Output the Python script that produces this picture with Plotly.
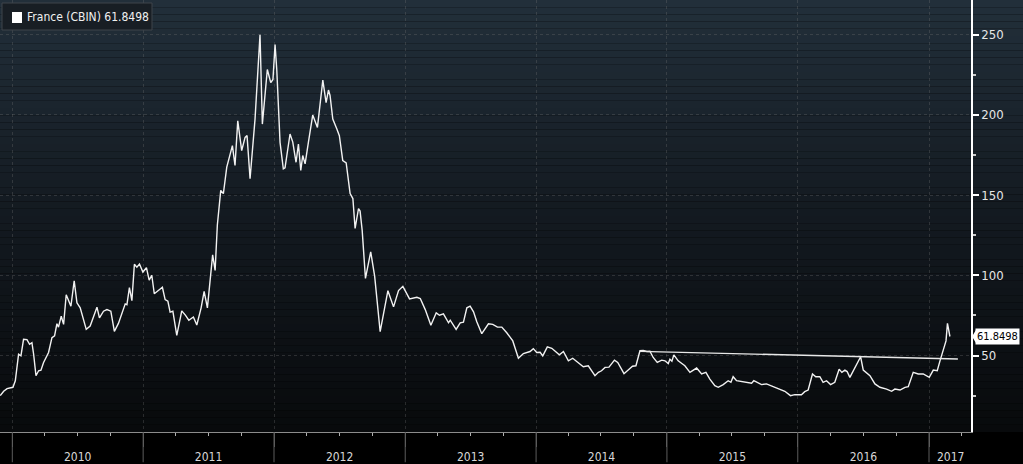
import plotly.graph_objects as go
from datetime import datetime, timedelta

# ---------------- data ----------------
series_name = "France (CBIN)"
last_value = 61.8498

# time as fractional year
t_years = [
    2009.908, 2009.934, 2009.960, 2010.005, 2010.023, 2010.048, 2010.066, 2010.086, 2010.112, 2010.132,
    2010.150, 2010.163, 2010.181, 2010.201, 2010.219, 2010.239, 2010.277, 2010.303, 2010.323, 2010.341,
    2010.353, 2010.374, 2010.392, 2010.412, 2010.448, 2010.473, 2010.494, 2010.519, 2010.565, 2010.595,
    2010.647, 2010.666, 2010.697, 2010.723, 2010.753, 2010.780, 2010.811, 2010.837, 2010.863, 2010.876,
    2010.895, 2010.914, 2010.933, 2010.952, 2010.972, 2010.998, 2011.025, 2011.046, 2011.066, 2011.085,
    2011.121, 2011.147, 2011.168, 2011.189, 2011.206, 2011.227, 2011.257, 2011.295, 2011.324, 2011.349,
    2011.384, 2011.410, 2011.443, 2011.466, 2011.491, 2011.531, 2011.550, 2011.567, 2011.593, 2011.613,
    2011.639, 2011.664, 2011.682, 2011.702, 2011.723, 2011.753, 2011.779, 2011.794, 2011.817, 2011.855,
    2011.893, 2011.911, 2011.949, 2011.975, 2011.992, 2012.008, 2012.021, 2012.046, 2012.071, 2012.084,
    2012.122, 2012.143, 2012.168, 2012.186, 2012.204, 2012.219, 2012.237, 2012.262, 2012.295, 2012.331,
    2012.372, 2012.397, 2012.415, 2012.427, 2012.448, 2012.479, 2012.498, 2012.524, 2012.550, 2012.580,
    2012.601, 2012.618, 2012.644, 2012.656, 2012.672, 2012.697, 2012.737, 2012.767, 2012.798, 2012.809,
    2012.868, 2012.911, 2012.949, 2012.982, 2013.033, 2013.089, 2013.115, 2013.153, 2013.196, 2013.237,
    2013.262, 2013.292, 2013.331, 2013.344, 2013.389, 2013.420, 2013.445, 2013.471, 2013.496, 2013.522,
    2013.547, 2013.585, 2013.636, 2013.669, 2013.705, 2013.738, 2013.776, 2013.822, 2013.865, 2013.903,
    2013.954, 2013.979, 2014.005, 2014.031, 2014.051, 2014.086, 2014.120, 2014.158, 2014.178, 2014.209,
    2014.247, 2014.280, 2014.336, 2014.361, 2014.399, 2014.450, 2014.476, 2014.500, 2014.527, 2014.557,
    2014.599, 2014.624, 2014.672, 2014.705, 2014.737, 2014.763, 2014.794, 2014.819, 2014.847, 2014.870,
    2014.895, 2014.926, 2014.960, 2014.985, 2015.010, 2015.023, 2015.038, 2015.053, 2015.086, 2015.137,
    2015.176, 2015.227, 2015.265, 2015.298, 2015.328, 2015.366, 2015.392, 2015.430, 2015.468, 2015.489,
    2015.506, 2015.532, 2015.570, 2015.608, 2015.647, 2015.664, 2015.687, 2015.723, 2015.761, 2015.811,
    2015.863, 2015.901, 2015.944, 2015.977, 2016.028, 2016.053, 2016.079, 2016.112, 2016.137, 2016.168,
    2016.193, 2016.219, 2016.250, 2016.282, 2016.315, 2016.336, 2016.359, 2016.376, 2016.397, 2016.435,
    2016.479, 2016.499, 2016.550, 2016.588, 2016.626, 2016.677, 2016.715, 2016.740, 2016.779, 2016.817,
    2016.842, 2016.880, 2016.918, 2016.956, 2017.002, 2017.033, 2017.063, 2017.084, 2017.109, 2017.130,
    2017.141, 2017.160,
]

cds = [
    25.0, 27.7, 29.4, 30.2, 34.3, 50.8, 49.8, 60.1, 59.9, 57.0,
    58.0, 50.8, 37.4, 40.5, 40.9, 45.7, 51.9, 61.1, 62.2, 69.8,
    67.7, 74.5, 69.4, 87.9, 80.7, 96.6, 82.8, 79.7, 66.3, 68.4,
    80.1, 73.5, 77.6, 78.6, 77.6, 65.0, 70.0, 75.6, 82.2, 81.7,
    92.3, 84.2, 106.9, 105.0, 107.0, 102.0, 104.7, 97.0, 100.0, 88.5,
    91.0, 92.5, 84.8, 83.8, 77.0, 77.6, 62.5, 77.8, 75.0, 72.0,
    74.0, 69.0, 79.7, 90.0, 79.7, 112.7, 103.0, 131.3, 152.9, 150.9,
    167.4, 174.6, 180.8, 168.4, 196.2, 177.7, 185.9, 187.0, 160.1, 197.3,
    249.9, 194.2, 228.2, 220.0, 222.0, 243.7, 228.2, 182.8, 166.3, 167.0,
    188.0, 183.0, 170.4, 181.8, 165.3, 174.6, 169.4, 182.8, 199.8, 192.1,
    221.6, 207.6, 215.4, 212.0, 197.3, 191.1, 187.0, 171.5, 170.0, 150.9,
    147.8, 129.2, 141.6, 140.0, 128.0, 98.0, 114.6, 99.5, 70.0, 64.9,
    90.4, 80.3, 90.5, 93.1, 85.3, 86.3, 85.5, 78.6, 68.8, 76.6,
    75.1, 75.9, 70.4, 72.0, 66.3, 70.4, 70.8, 79.7, 80.7, 77.2,
    71.0, 63.6, 69.8, 69.4, 67.7, 67.7, 64.2, 59.1, 48.3, 51.2,
    52.5, 54.3, 51.9, 52.0, 49.8, 55.4, 54.5, 51.9, 50.4, 52.5,
    46.7, 48.3, 44.6, 43.0, 43.6, 37.4, 39.5, 40.5, 42.6, 42.8,
    47.1, 45.7, 38.7, 41.0, 43.3, 43.6, 53.0, 53.1, 52.5, 52.7,
    48.8, 45.7, 47.1, 46.7, 45.0, 47.7, 46.5, 50.4, 46.7, 43.6,
    39.5, 42.2, 38.5, 39.5, 35.3, 31.2, 30.2, 31.9, 34.3, 33.3,
    36.8, 34.3, 33.7, 33.3, 32.7, 34.3, 33.3, 31.9, 32.3, 30.6,
    29.1, 27.7, 25.0, 25.6, 25.6, 27.5, 28.5, 38.5, 36.8, 36.8,
    33.3, 34.3, 31.9, 33.3, 41.5, 39.5, 40.9, 40.0, 36.4, 42.6,
    49.2, 40.9, 37.4, 32.3, 30.2, 29.1, 27.7, 29.1, 28.5, 30.2,
    30.6, 39.5, 38.5, 38.5, 36.4, 40.9, 40.5, 46.7, 52.9, 59.1,
    70.0, 61.8498,
]

# trend line drawn on the chart
trend_t = [2014.794, 2017.221]
trend_v = [52.6, 47.8]

y_tick_vals = [50, 100, 150, 200, 250]
year_labels = [2010, 2011, 2012, 2013, 2014, 2015, 2016, 2017]
x_range_years = [2009.906, 2017.321]
y_range = [2.35, 271.5]


def frac_to_date(t):
    year = int(t)
    start = datetime(year, 1, 1)
    days = (datetime(year + 1, 1, 1) - start).days
    return start + timedelta(days=(t - year) * days)


dates = [frac_to_date(t) for t in t_years]
trend_dates = [frac_to_date(t) for t in trend_t]
x_start = frac_to_date(x_range_years[0])
x_end = frac_to_date(x_range_years[1])

FONT = "Liberation Sans Narrow, DejaVu Sans Condensed, Liberation Sans, Arial, sans-serif"
LABEL_COLOR = "#d8d8d8"

fig = go.Figure()

fig.add_trace(go.Scatter(
    x=dates, y=cds, mode="lines", name=series_name,
    line=dict(color="#f2f2f2", width=1.4), showlegend=False,
    hoverinfo="x+y",
))
fig.add_trace(go.Scatter(
    x=trend_dates, y=trend_v, mode="lines",
    line=dict(color="#e8e8e8", width=1.4), showlegend=False, hoverinfo="skip",
))

shapes = []
# vertical gradient background (plot area + right margin)
n_bands = 60
top = (34, 47, 58)
mid = (20, 27, 34)
bot = (8, 10, 12)
for i in range(n_bands):
    f = i / (n_bands - 1)  # 0 at top, 1 at bottom
    if f < 0.46:
        g = f / 0.46
        c = [round(top[k] + (mid[k] - top[k]) * g) for k in range(3)]
    else:
        g = (f - 0.46) / 0.54
        c = [round(mid[k] + (bot[k] - mid[k]) * g) for k in range(3)]
    y1 = 1 - i / n_bands
    y0 = 1 - (i + 1) / n_bands
    shapes.append(dict(type="rect", xref="paper", yref="paper",
                       x0=-0.01, x1=1.1, y0=y0, y1=y1,
                       fillcolor="rgb(%d,%d,%d)" % tuple(c),
                       line=dict(width=0), layer="below"))

# year separators in the bottom band
for yr in year_labels:
    shapes.append(dict(type="line", xref="x", yref="paper",
                       x0=datetime(yr, 1, 1), x1=datetime(yr, 1, 1),
                       y0=-0.07, y1=0, line=dict(color="#5c5c5c", width=1)))

# legend box (pixel sized, anchored at top-left of plot)
shapes.append(dict(type="rect", xref="paper", yref="paper",
                   xsizemode="pixel", ysizemode="pixel", xanchor=0, yanchor=1,
                   x0=2, x1=152, y0=-3, y1=-30,
                   fillcolor="rgb(24,30,36)", line=dict(color="rgb(62,68,74)", width=1)))
shapes.append(dict(type="rect", xref="paper", yref="paper",
                   xsizemode="pixel", ysizemode="pixel", xanchor=0, yanchor=1,
                   x0=12, x1=22, y0=-12, y1=-23,
                   fillcolor="#ffffff", line=dict(width=0)))

# pointer of the last-value tag
shapes.append(dict(type="path", xref="paper", yref="y",
                   xsizemode="pixel", ysizemode="pixel", xanchor=1, yanchor=last_value,
                   path="M 1,0 L 5,6.5 L 5,-6.5 Z",
                   fillcolor="#ffffff", line=dict(width=0)))

annotations = [
    dict(xref="paper", yref="paper", x=0, y=1, xanchor="left", yanchor="middle",
         xshift=25, yshift=-17, showarrow=False,
         text="%s %s" % (series_name, last_value),
         font=dict(family=FONT, size=12, color="#f0f0f0")),
    dict(xref="paper", yref="y", x=1, y=last_value, xanchor="left", yanchor="middle",
         xshift=4, showarrow=False, text="%s" % last_value,
         bgcolor="#ffffff", borderpad=1,
         font=dict(family=FONT, size=11, color="#000000")),
]

# the last (partial) year label sits in the middle of its visible part
last_year_start = datetime(year_labels[-1], 1, 1)
annotations.append(dict(
    xref="x", yref="paper",
    x=last_year_start + (x_end - last_year_start) / 2, y=0,
    xanchor="center", yanchor="top", yshift=-16, showarrow=False,
    text=str(year_labels[-1]),
    font=dict(family=FONT, size=12, color=LABEL_COLOR)))

fig.update_layout(
    width=1023, height=464,
    margin=dict(l=0, r=52, t=0, b=29),
    paper_bgcolor="#000000",
    plot_bgcolor="rgba(0,0,0,0)",
    shapes=shapes,
    annotations=annotations,
    showlegend=False,
    xaxis=dict(
        type="date",
        range=[x_start, x_end],
        tick0="2010-01-01", dtick="M12", tickformat="%Y",
        ticklabelmode="period",
        ticks="outside", ticklen=14, tickcolor="#5c5c5c", tickwidth=1,
        showline=True, linecolor="#8c8c8c", linewidth=1,
        showgrid=True, gridcolor="rgba(120,120,120,0.3)", griddash="dot", gridwidth=1,
        zeroline=False,
        tickfont=dict(family=FONT, size=12, color=LABEL_COLOR),
        minor=dict(dtick="M3", ticks="outside", ticklen=3, tickcolor="#b0b0b0", showgrid=False),
    ),
    yaxis=dict(
        side="right", range=y_range,
        tickvals=y_tick_vals,
        ticks="outside", ticklen=6, tickcolor="#ffffff", tickwidth=1.5,
        showline=True, linecolor="#ffffff", linewidth=1.5,
        showgrid=True, gridcolor="rgba(120,120,120,0.3)", griddash="dot", gridwidth=1,
        zeroline=False,
        tickfont=dict(family=FONT, size=13, color="#e6e6e6"),
        minor=dict(dtick=25, tick0=0, ticks="outside", ticklen=3, tickcolor="#cccccc", showgrid=False),
    ),
)

fig.write_html("out.html")
